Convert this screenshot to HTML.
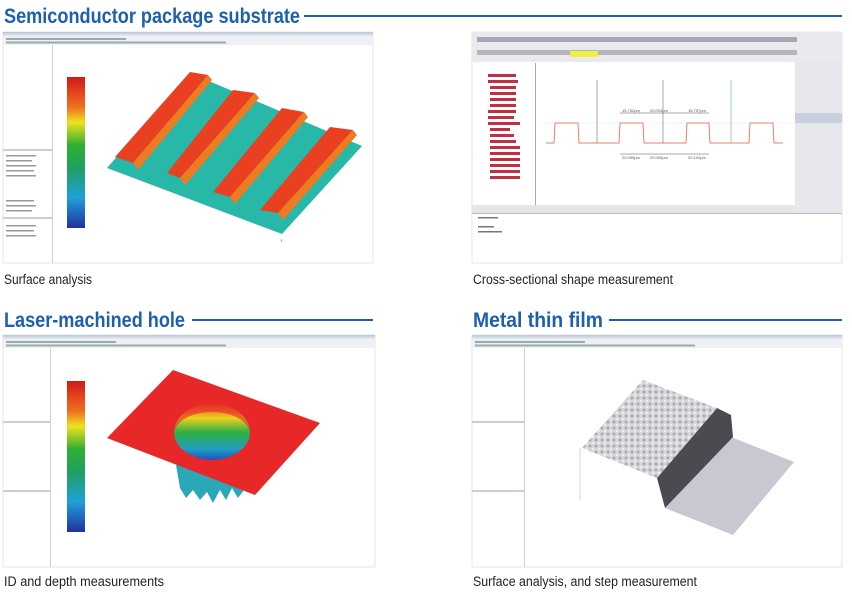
<!DOCTYPE html>
<html><head><meta charset="utf-8"><style>
body{margin:0;background:#fff}
svg{display:block}
.h{font-family:"Liberation Sans",sans-serif;font-weight:bold;font-size:21px;fill:#1f5fb0}
.c{font-family:"Liberation Sans",sans-serif;font-size:13.5px;fill:#222}
.t{font-family:"Liberation Sans",sans-serif;font-size:4px;fill:#555}
</style></head><body>
<svg width="852" height="595" viewBox="0 0 852 595" xmlns="http://www.w3.org/2000/svg">
<defs>
<linearGradient id="cb" x1="0" y1="0" x2="0" y2="1">
<stop offset="0" stop-color="#d01818"/><stop offset=".2" stop-color="#f07020"/><stop offset=".3" stop-color="#f0e020"/><stop offset=".45" stop-color="#30b030"/><stop offset=".6" stop-color="#20a060"/><stop offset=".8" stop-color="#20a0d8"/><stop offset="1" stop-color="#2030a0"/></linearGradient>
<linearGradient id="hole" x1="0" y1="0" x2="0" y2="1">
<stop offset="0" stop-color="#e04020"/><stop offset=".25" stop-color="#f0d020"/><stop offset=".5" stop-color="#30b040"/><stop offset=".8" stop-color="#20a0c0"/><stop offset="1" stop-color="#2050c0"/></linearGradient>
<linearGradient id="tb" x1="0" y1="0" x2="0" y2="1"><stop offset="0" stop-color="#b8c4d8"/><stop offset="1" stop-color="#e8ecf2"/></linearGradient>
<pattern id="tex" width="6" height="6" patternUnits="userSpaceOnUse"><rect width="6" height="6" fill="#d8d8dc"/><circle cx="2" cy="2" r="1.5" fill="#a8a8b0"/><circle cx="5" cy="5" r="1" fill="#f4f4f4"/></pattern>
</defs>

<!-- headings -->
<text class="h" x="4" y="23" textLength="296" lengthAdjust="spacingAndGlyphs">Semiconductor package substrate</text>
<rect x="304" y="15" width="538" height="2" fill="#1f5fb0"/>
<text class="h" x="4" y="327" textLength="181" lengthAdjust="spacingAndGlyphs">Laser-machined hole</text>
<rect x="192" y="319" width="181" height="2" fill="#1f5fb0"/>
<text class="h" x="473" y="327" textLength="130" lengthAdjust="spacingAndGlyphs">Metal thin film</text>
<rect x="609" y="319" width="233" height="2" fill="#1f5fb0"/>

<!-- captions -->
<text class="c" x="4" y="284" textLength="88" lengthAdjust="spacingAndGlyphs">Surface analysis</text>
<text class="c" x="473" y="284" textLength="200" lengthAdjust="spacingAndGlyphs">Cross-sectional shape measurement</text>
<text class="c" x="4" y="586" textLength="160" lengthAdjust="spacingAndGlyphs">ID and depth measurements</text>
<text class="c" x="473" y="586" textLength="224" lengthAdjust="spacingAndGlyphs">Surface analysis, and step measurement</text>

<!-- Panel 1 -->
<g>
<rect x="3" y="32" width="370" height="231" fill="#fff" stroke="#ccc" stroke-width=".5"/>
<rect x="3" y="32" width="370" height="4" fill="url(#tb)"/>
<rect x="3" y="36" width="370" height="9" fill="#eef0f4"/>
<g fill="#9aa" ><rect x="6" y="38" width="120" height="2"/><rect x="6" y="41.5" width="220" height="2"/></g>
<rect x="52" y="45" width=".7" height="218" fill="#bbb"/>
<rect x="3" y="149" width="49" height="2" fill="#ccd"/><rect x="3" y="217" width="49" height="2" fill="#ccd"/>
<g fill="#999"><rect x="6" y="155" width="30" height="1.5"/><rect x="6" y="160" width="26" height="1.5"/><rect x="6" y="165" width="30" height="1.5"/><rect x="6" y="170" width="28" height="1.5"/><rect x="6" y="175" width="30" height="1.5"/><rect x="6" y="200" width="28" height="1.5"/><rect x="6" y="205" width="30" height="1.5"/><rect x="6" y="210" width="26" height="1.5"/><rect x="6" y="225" width="30" height="1.5"/><rect x="6" y="230" width="28" height="1.5"/><rect x="6" y="235" width="30" height="1.5"/></g>
<rect x="67" y="77" width="18" height="151" fill="url(#cb)"/>
<polygon points="107,168 190,73 362,146 282,234" fill="#28b8a8"/>
<g>
<polygon points="190,72 208,75 133,163 115,157" fill="#e84020"/><polygon points="133,163 208,75 212,80 138,170" fill="#f07a20"/>
<polygon points="233,90 255,93 180,178 167,173" fill="#e84020"/><polygon points="180,178 255,93 259,98 185,185" fill="#f07a20"/>
<polygon points="282,108 304,112 230,197 213,192" fill="#e84020"/><polygon points="230,197 304,112 308,117 235,204" fill="#f07a20"/>
<polygon points="330,127 353,130 278,213 260,210" fill="#e84020"/><polygon points="278,213 353,130 357,135 283,220" fill="#f07a20"/>
</g>
<text class="t" x="280" y="242">Y</text>
</g>

<!-- Panel 2 -->
<g>
<rect x="472" y="32" width="370" height="231" fill="#fff" stroke="#ccc" stroke-width=".5"/>
<rect x="472" y="32" width="370" height="30" fill="#e8eaee"/>
<g fill="#667"><rect x="477" y="37" width="320" height="5" opacity=".5"/><rect x="477" y="50" width="320" height="5" opacity=".4"/></g>
<rect x="570" y="51" width="28" height="6" fill="#f0f040"/>
<rect x="473" y="63" width="62" height="142" fill="#fff"/>
<g fill="#c03040"><rect x="488" y="74" width="28" height="3"/><rect x="488" y="80" width="30" height="3"/><rect x="490" y="86" width="26" height="3"/><rect x="490" y="92" width="26" height="3"/><rect x="490" y="98" width="26" height="3"/><rect x="490" y="104" width="26" height="3"/><rect x="488" y="110" width="28" height="3"/><rect x="488" y="116" width="26" height="3"/><rect x="488" y="122" width="32" height="3"/><rect x="490" y="128" width="20" height="3"/><rect x="490" y="134" width="24" height="3"/><rect x="490" y="140" width="26" height="3"/><rect x="490" y="146" width="30" height="3"/><rect x="490" y="152" width="30" height="3"/><rect x="490" y="158" width="30" height="3"/><rect x="490" y="164" width="30" height="3"/><rect x="490" y="170" width="30" height="3"/><rect x="490" y="176" width="30" height="3"/></g>
<rect x="535" y="63" width="1" height="142" fill="#aaa"/>
<rect x="795" y="62" width="47" height="151" fill="#e6e8ee"/>
<rect x="795" y="113" width="47" height="10" fill="#c8d0e0"/>
<rect x="472" y="205" width="323" height="8" fill="#e4e6ea"/>
<rect x="472" y="213" width="370" height="1" fill="#bbb"/>
<g fill="#777"><rect x="478" y="217" width="20" height="1.5"/><rect x="478" y="226" width="16" height="1.5"/><rect x="478" y="231" width="24" height="1.5"/></g>
<line x1="540" y1="123" x2="790" y2="123" stroke="#ddd" stroke-width=".5" stroke-dasharray="2,2"/>
<polyline fill="none" stroke="#e88060" stroke-width="1" points="546,143 554,143 555,123 578,123 579,143 619,143 620,123 643,123 644,143 686,143 687,123 709,123 710,143 749,143 750,123 773,123 774,143 783,143"/>
<g stroke="#555" stroke-width=".5"><line x1="597" y1="80" x2="597" y2="143"/><line x1="663" y1="80" x2="663" y2="143"/><line x1="620" y1="113" x2="709" y2="113"/><line x1="620" y1="154" x2="709" y2="154"/></g>
<line x1="731" y1="80" x2="731" y2="143" stroke="#4a4" stroke-width=".5"/>
<g class="t"><text x="622" y="112">15.752μm</text><text x="650" y="112">20.003μm</text><text x="688" y="112">15.757μm</text><text x="622" y="159">20.099μm</text><text x="650" y="159">20.009μm</text><text x="688" y="159">20.102μm</text></g>
</g>

<!-- Panel 3 -->
<g>
<rect x="3" y="335" width="372" height="232" fill="#fff" stroke="#ccc" stroke-width=".5"/>
<rect x="3" y="335" width="372" height="4" fill="url(#tb)"/>
<rect x="3" y="339" width="372" height="9" fill="#eef0f4"/>
<g fill="#9aa"><rect x="6" y="341" width="110" height="2"/><rect x="6" y="344.5" width="220" height="2"/></g>
<rect x="50" y="348" width=".7" height="219" fill="#bbb"/>
<rect x="3" y="421" width="47" height="2" fill="#ccd"/><rect x="3" y="490" width="47" height="2" fill="#ccd"/>
<rect x="67" y="381" width="18" height="151" fill="url(#cb)"/>
<path d="M176,465 L247,465 L244,490 L238,498 L232,488 L226,500 L220,490 L213,503 L207,492 L200,500 L193,490 L186,498 L180,488 Z" fill="#2aa8b8"/>
<polygon points="173,370 320,423 255,495 107,438" fill="#e82828"/>
<ellipse cx="212" cy="432" rx="38" ry="28" fill="url(#hole)"/>
<path d="M174,432 A38,28 0 0 1 250,432 L250,434 A38,22 0 0 0 174,434 Z" fill="#e82828" opacity=".6"/>
</g>

<!-- Panel 4 -->
<g>
<rect x="472" y="335" width="370" height="232" fill="#fff" stroke="#ccc" stroke-width=".5"/>
<rect x="472" y="335" width="370" height="4" fill="url(#tb)"/>
<rect x="472" y="339" width="370" height="9" fill="#eef0f4"/>
<g fill="#9aa"><rect x="475" y="341" width="110" height="2"/><rect x="475" y="344.5" width="220" height="2"/></g>
<rect x="524" y="348" width=".7" height="219" fill="#bbb"/>
<rect x="472" y="421" width="52" height="2" fill="#ccd"/><rect x="472" y="490" width="52" height="2" fill="#ccd"/>
<line x1="580" y1="448" x2="580" y2="500" stroke="#aaa" stroke-width=".5"/>
<polygon points="731,437 794,462 733,535 665,508" fill="#c8c8d2"/>
<polygon points="717,408 731,415 733,437 665,508 657,478" fill="#4a4a50"/>
<polygon points="643,380 717,408 657,478 582,448" fill="url(#tex)"/>
</g>
</svg>
</body></html>
